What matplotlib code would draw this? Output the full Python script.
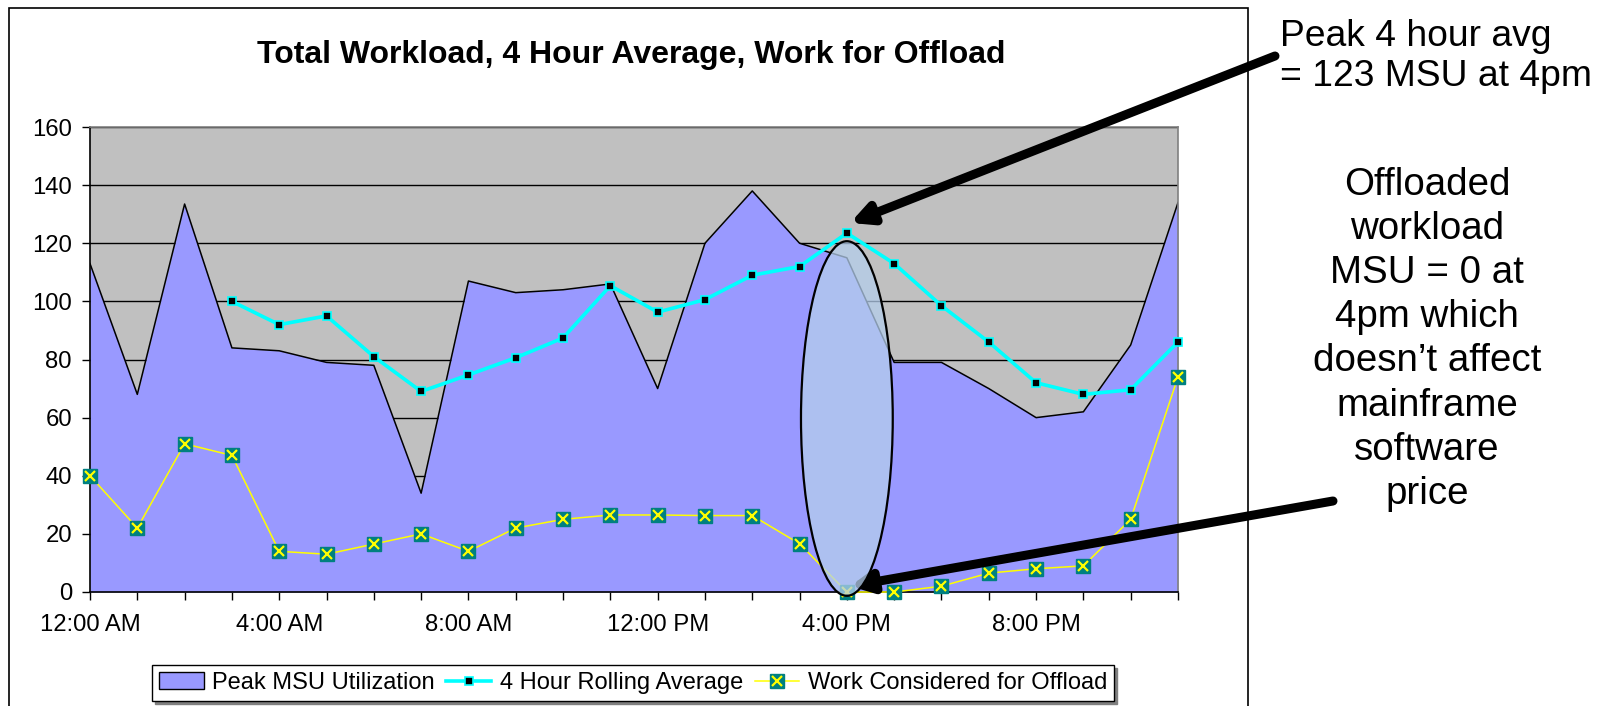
import numpy as np
import matplotlib
matplotlib.use("Agg")
import matplotlib.pyplot as plt
from matplotlib.patches import Ellipse, Patch, Rectangle
from matplotlib.lines import Line2D
from matplotlib.legend_handler import HandlerTuple

plt.rcParams['font.family'] = ['Liberation Sans', 'DejaVu Sans']

# hourly values, 12:00 AM .. 11:00 PM
hours = np.arange(24)
peak_msu = [113, 68, 133.5, 84, 83, 79, 78, 34, 107, 103, 104, 106,
            70, 120, 138, 120, 115, 79, 79, 70, 60, 62, 85, 134]
# rolling average starts at 3:00 AM
rolling_hours = hours[3:]
rolling_avg = [100, 92, 95, 81, 69, 74.7, 80.6, 87.4, 105.4, 96.3, 100.6,
               109, 112, 123.5, 113, 98.5, 86, 72, 68, 69.6, 86]
offload = [40, 22, 51, 47, 14, 13, 16.5, 20, 14, 22, 25, 26.5,
           26.5, 26.3, 26.3, 16.6, 0, 0, 2, 6.5, 8, 9, 25, 74]

tick_pos = [0, 4, 8, 12, 16, 20]
tick_labels = ['12:00 AM', '4:00 AM', '8:00 AM', '12:00 PM', '4:00 PM', '8:00 PM']

W, H = 1604, 706
fig = plt.figure(figsize=(W / 100, H / 100), dpi=100)
ax = fig.add_axes([90 / W, 1 - 592 / H, (1178 - 90) / W, (592 - 127) / H])
ax.set_facecolor('#C0C0C0')

# outer chart frame
fig.add_artist(Rectangle((9 / W, -0.02), (1248 - 9) / W, 1.02 - 8 / H,
                         transform=fig.transFigure, fill=False,
                         edgecolor='black', lw=1.2))

ax.set_axisbelow(True)
ax.yaxis.grid(True, color='black', lw=1.0)

ax.fill_between(hours, peak_msu, 0, color='#9999FF', lw=0, zorder=1)
ax.plot(hours, peak_msu, color='black', lw=1.1, zorder=2)

ax.plot(hours, offload, color='#FFFF00', lw=1.1, marker='s', ms=10,
        mfc='#008080', mec='#008080', zorder=3, clip_on=False)
ax.plot(hours, offload, ls='none', marker='x', ms=7, mew=1.6,
        color='#FFFF00', zorder=4, clip_on=False)

ax.plot(rolling_hours, rolling_avg, color='#00FFFF', lw=2.6, marker='s',
        ms=6, mfc='black', mec='#00FFFF', mew=1.2, zorder=5, clip_on=False)

# highlight around 4pm
ax.add_patch(Ellipse((16, 59.7), width=1.94, height=122,
                     facecolor=(180 / 255, 206 / 255, 236 / 255, 0.75),
                     edgecolor='black', lw=1.6, zorder=6, clip_on=False))

ax.set_xlim(0, 23)
ax.set_ylim(0, 160)
ax.set_xticks(hours, minor=True)
ax.set_xticks(tick_pos)
ax.set_xticklabels(tick_labels)
ax.set_yticks(np.arange(0, 161, 20))
ax.tick_params(axis='both', which='both', direction='out', length=6,
               width=1.0, color='black', labelsize=17.2)
ax.tick_params(axis='x', which='major', pad=10)
ax.tick_params(axis='y', pad=7)

for s in ['left', 'bottom']:
    ax.spines[s].set_color('black')
    ax.spines[s].set_linewidth(1.2)
for s in ['top', 'right']:
    ax.spines[s].set_color('#808080')
    ax.spines[s].set_linewidth(1.2)

fig.text(631 / W, 1 - 63 / H, 'Total Workload, 4 Hour Average, Work for Offload',
         ha='center', va='baseline', fontsize=23, fontweight='bold')

# legend
h_peak = Patch(facecolor='#9999FF', edgecolor='black', lw=1.0)
h_roll = Line2D([], [], color='#00FFFF', lw=2.6, marker='s', ms=6,
                mfc='black', mec='#00FFFF', mew=1.2)
h_off1 = Line2D([], [], color='#FFFF00', lw=1.1, marker='s', ms=10,
                mfc='#008080', mec='#008080')
h_off2 = Line2D([], [], ls='none', marker='x', ms=7, mew=1.6, color='#FFFF00')
leg = fig.legend([h_peak, h_roll, (h_off1, h_off2)],
                 ['Peak MSU Utilization', '4 Hour Rolling Average',
                  'Work Considered for Offload'],
                 handler_map={tuple: HandlerTuple(ndivide=1, pad=0)},
                 loc='center', bbox_to_anchor=(633 / W, 1 - 683 / H),
                 ncol=3, fontsize=17, numpoints=1, frameon=True,
                 fancybox=False, edgecolor='black', framealpha=1,
                 shadow={'color': '#808080', 'alpha': 1},
                 handlelength=1.9, handletextpad=0.35, columnspacing=0.5,
                 borderpad=0.3, borderaxespad=0)
leg.get_frame().set_linewidth(1.0)

# annotations to the right
fig.text(1280 / W, 1 - 19 / H, 'Peak 4 hour avg\n= 123 MSU at 4pm',
         ha='left', va='top', fontsize=26.8, linespacing=1.2)
fig.text(1427 / W, 1 - 167 / H,
         'Offloaded\nworkload\nMSU = 0 at\n4pm which\ndoesn\u2019t affect\n'
         'mainframe\nsoftware\nprice',
         ha='center', va='top', fontsize=27.7, linespacing=1.29)

arrow = dict(arrowstyle='-|>,head_length=1.2,head_width=0.6',
             mutation_scale=10, lw=6.5, color='black', shrinkA=0, shrinkB=0)
ax.annotate('', xy=(16.07, 127), xycoords='data',
            xytext=(1275, H - 56), textcoords='figure pixels',
            arrowprops=arrow, annotation_clip=False)
ax.annotate('', xy=(16.07, 2), xycoords='data',
            xytext=(1333, H - 501), textcoords='figure pixels',
            arrowprops=arrow, annotation_clip=False)

fig.savefig('out.png', dpi=100)
